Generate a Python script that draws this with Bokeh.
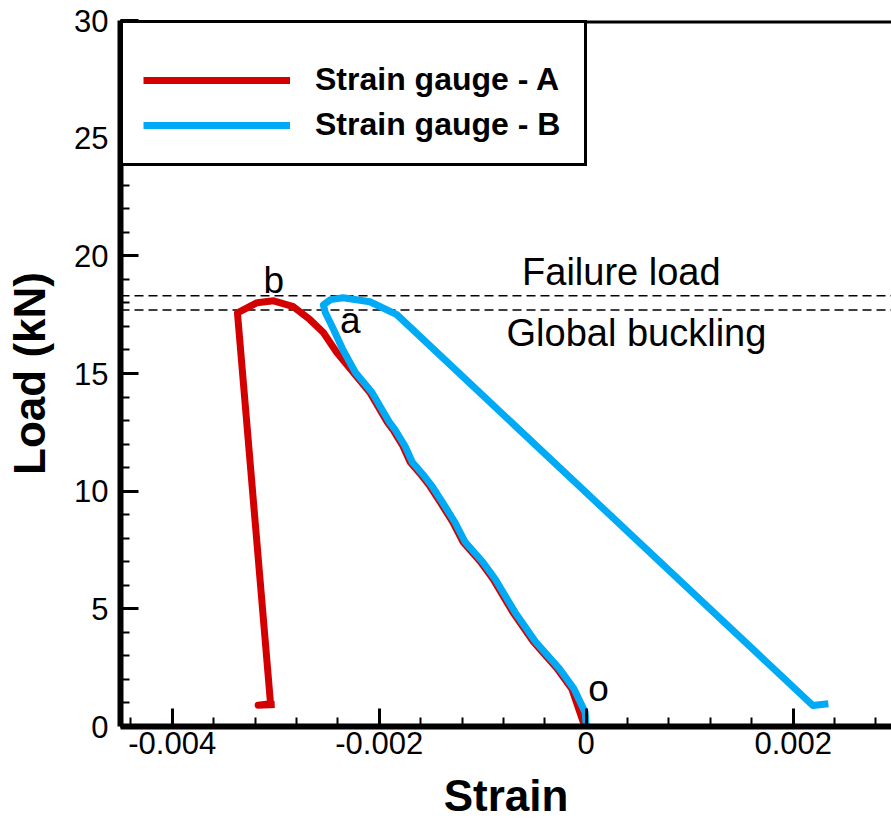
from bokeh.plotting import figure
from bokeh.models import (Range1d, SingleIntervalTicker, CustomJSTickFormatter, Span,
                          Legend, LegendItem)
from bokeh.core.properties import value
from bokeh.embed import file_html
from bokeh.resources import INLINE

# ---- data ----
strain_a = [0.0, -0.00003, -0.00014, -0.00028, -0.00051, -0.00071, -0.00090, -0.00102,
            -0.00119, -0.00129, -0.00141, -0.00151, -0.00160, -0.00170, -0.00177,
            -0.00187, -0.00192, -0.00209, -0.00225, -0.00241, -0.00254, -0.00267,
            -0.00283, -0.00302, -0.00318, -0.00337, -0.00305, -0.00317, -0.00301]
load_a = [0.0, 0.21, 1.61, 2.46, 3.60, 4.87, 6.27, 6.99,
          7.84, 8.69, 9.53, 10.21, 10.72, 11.23, 11.91,
          12.63, 12.92, 14.19, 15.04, 15.89, 16.74, 17.29,
          17.84, 18.09, 18.01, 17.58, 0.97, 0.90, 0.93]

strain_b = [0.0, -0.00001, -0.00012, -0.00026, -0.00049, -0.00069, -0.00088, -0.00100,
            -0.00117, -0.00127, -0.00139, -0.00149, -0.00158, -0.00168, -0.00175,
            -0.00185, -0.00190, -0.00207, -0.00223, -0.00235, -0.00244, -0.00252,
            -0.00254, -0.00247, -0.00235, -0.00209, -0.00183, 0.00219, 0.00234]
load_b = [0.0, 0.60, 1.61, 2.46, 3.60, 4.87, 6.27, 6.99,
          7.84, 8.69, 9.53, 10.21, 10.72, 11.23, 11.91,
          12.63, 12.92, 14.19, 15.04, 16.00, 16.86, 17.58,
          17.92, 18.14, 18.22, 18.05, 17.50, 0.89, 0.97]

failure_load = 18.3
global_buckling = 17.7

x_ticks = [-0.004, -0.002, 0.0, 0.002]
x_tick_labels = ["-0.004", "-0.002", "0", "0.002"]

note_text = ["Failure load", "Global buckling"]
note_x = [-0.00062, -0.00077]
note_y = [19.32, 16.74]

point_text = ["b", "a", "o"]
point_x = [-0.00302, -0.00228, 0.00012]
point_y = [18.94, 17.24, 1.61]

series_names = ["Strain gauge - A", "Strain gauge - B"]
red = "#d40000"
blue = "#00aaf5"
FONT = "Liberation Sans"

p = figure(width=891, height=822, output_backend="svg", toolbar_location=None,
           x_range=Range1d(-0.0045, 0.00295), y_range=Range1d(0, 30),
           min_border_left=120, min_border_right=0, min_border_top=20,
           min_border_bottom=94)
p.outline_line_color = None
p.background_fill_color = "white"
p.border_fill_color = "white"
p.xgrid.visible = False
p.ygrid.visible = False

# axes
p.xaxis.ticker = SingleIntervalTicker(interval=0.002, num_minor_ticks=5)
p.xaxis.formatter = CustomJSTickFormatter(
    args=dict(tvals=x_ticks, tlabels=x_tick_labels),
    code="""
    for (let i = 0; i < tvals.length; i++) {
        if (Math.abs(tvals[i] - tick) < 1e-9) return tlabels[i];
    }
    return tick.toFixed(3);
    """)
p.yaxis.ticker = SingleIntervalTicker(interval=5, num_minor_ticks=5)

for ax in (p.xaxis[0], p.yaxis[0]):
    ax.axis_line_width = 6
    ax.axis_line_color = "black"
    ax.axis_line_alpha = 1.0
    ax.major_tick_in = 18
    ax.major_tick_out = 0
    ax.minor_tick_in = 9
    ax.minor_tick_out = 0
    ax.major_tick_line_width = 3
    ax.minor_tick_line_width = 2
    ax.major_tick_line_color = "black"
    ax.minor_tick_line_color = "black"
    ax.major_label_text_font = FONT
    ax.major_label_text_font_size = "31px"
    ax.major_label_text_color = "black"
    ax.axis_label_text_font = FONT
    ax.axis_label_text_font_size = "44px"
    ax.axis_label_text_font_style = "bold"
    ax.axis_label_text_color = "black"

p.xaxis.axis_label = "Strain"
p.yaxis.axis_label = "Load (kN)"
p.xaxis.major_label_standoff = 5
p.xaxis.axis_label_standoff = 14
p.yaxis.major_label_standoff = 12
p.yaxis.axis_label_standoff = 17

# reference lines
for loc in (failure_load, global_buckling):
    p.add_layout(Span(location=loc, dimension="width", line_color="black",
                      line_width=1.5, line_dash="9 5", level="underlay"))

# data
ra = p.line(strain_a, load_a, line_color=red, line_width=7, line_join="round")
rb = p.line(strain_b, load_b, line_color=blue, line_width=7, line_join="round")

# annotations
p.text(x=note_x, y=note_y, text=note_text, text_font=value(FONT),
       text_font_size="38px", text_align="left", text_baseline="alphabetic",
       text_color="black")
p.text(x=point_x, y=point_y, text=point_text, text_font=value(FONT),
       text_font_size="37px", text_align="center", text_baseline="alphabetic",
       text_color="black")

# top frame border
p.add_layout(Span(location=30, dimension="width", line_color="black",
                  line_width=6, line_alpha=1.0))

legend = Legend(items=[LegendItem(label=series_names[0], renderers=[ra]),
                       LegendItem(label=series_names[1], renderers=[rb])],
                location="top_left", margin=0, padding=20, spacing=8,
                glyph_width=147, glyph_height=30, label_height=30, label_width=249,
                label_standoff=25,
                label_text_font=FONT, label_text_font_size="32px",
                label_text_font_style="bold", label_text_color="black",
                border_line_color="black", border_line_width=3, border_line_alpha=1.0,
                background_fill_color="white", background_fill_alpha=1.0,
                title=" ", title_text_font_size="12px", title_standoff=4,
                title_text_color="white")
p.add_layout(legend)

open("out.html", "w").write(file_html(p, INLINE))
